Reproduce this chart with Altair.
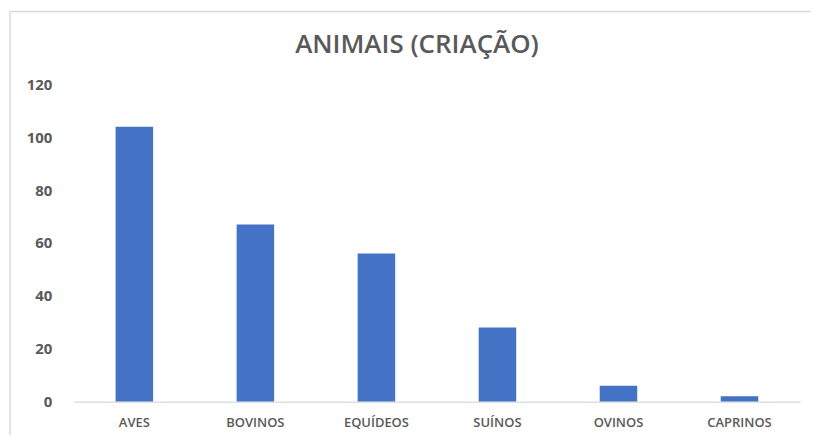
import altair as alt
import pandas as pd

categories = ["AVES", "BOVINOS", "EQUÍDEOS", "SUÍNOS", "OVINOS", "CAPRINOS"]
values = [104, 67, 56, 28, 6, 2]
title_text = "ANIMAIS (CRIAÇÃO)"
y_ticks = [0, 20, 40, 60, 80, 100, 120]

df = pd.DataFrame({"categoria": categories, "valor": values})
one = pd.DataFrame({"k": [0]})

FONT = "Open Sans"
GRAY = "#595959"

bars = alt.Chart(df).mark_bar(color="#4472C4").encode(
    x=alt.X(
        "categoria:N",
        sort=categories,
        scale=alt.Scale(paddingInner=0.69, paddingOuter=0.345),
        axis=alt.Axis(
            title=None, labelAngle=0, ticks=False, domainColor="#d9d9d9",
            domainWidth=1.2, labelFont=FONT, labelFontSize=13, labelColor=GRAY,
            labelPadding=15, labelFontWeight=600,
        ),
    ),
    y=alt.Y(
        "valor:Q",
        scale=alt.Scale(domain=[0, 120], nice=False),
        axis=alt.Axis(
            title=None, values=y_ticks, grid=False, ticks=False, domain=False,
            labelFont=FONT, labelFontSize=15, labelFontWeight="bold",
            labelColor=GRAY, labelPadding=22,
        ),
    ),
)

title = alt.Chart(one).mark_text(
    text=title_text, font=FONT, fontSize=26, fontWeight=600, color=GRAY,
    align="center", baseline="middle",
).encode(x=alt.value(344), y=alt.value(-39))

top_line = alt.Chart(one).mark_rule(color="#d9d9d9", strokeWidth=1.5).encode(
    x=alt.value(-64), x2=alt.value(760), y=alt.value(-73)
)
left_line = alt.Chart(one).mark_rule(color="#d9d9d9", strokeWidth=1.5).encode(
    x=alt.value(-64), y=alt.value(-73), y2=alt.value(420)
)

chart = alt.layer(bars, title, top_line, left_line).properties(
    width=728,
    height=318,
    autosize=alt.AutoSizeParams(type="none"),
    padding={"left": 66, "top": 76, "right": 11, "bottom": 33},
).configure_view(stroke=None)

chart.save("out.html", embed_options={"renderer": "svg", "actions": False})
